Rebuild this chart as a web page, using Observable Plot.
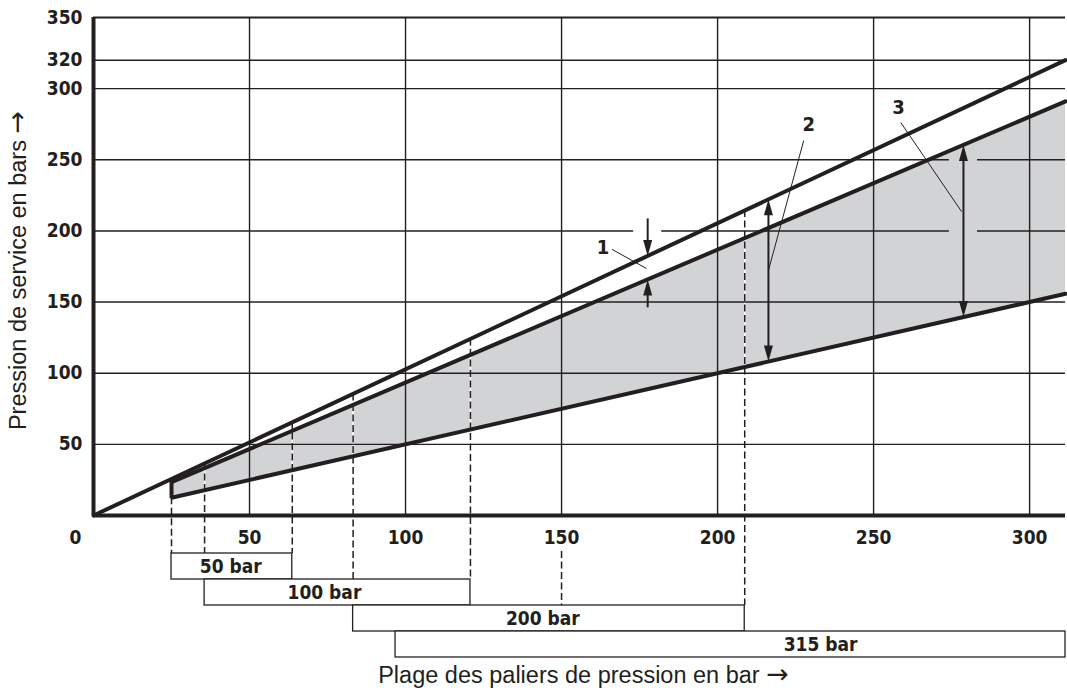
<!DOCTYPE html>
<html>
<head>
<meta charset="utf-8">
<script src="https://cdn.jsdelivr.net/npm/d3@7"></script>
<script src="https://cdn.jsdelivr.net/npm/@observablehq/plot@0.6"></script>
<style>
  html, body { margin: 0; padding: 0; background: #fff; }
  #chart svg { display: block; }
</style>
</head>
<body>
<div id="chart"></div>
<script>
// ---------- data ----------
const xTicks = [50, 100, 150, 200, 250, 300];
const yTicks = [50, 100, 150, 200, 250, 300, 320, 350];
const xMax = 311.5;

// characteristic lines [x, pressure]
const topLine    = [[0, 0], [311.5, 320]];
const upperLimit = [[25, 23.4], [311.5, 291]];
const lowerLimit = [[25, 12.5], [311.5, 155.8]];

// pressure-stage ranges (boxes under the axis)
const stageNames  = ["50 bar", "100 bar", "200 bar", "315 bar"];
const stageFrom   = [25, 35.6, 83.2, 96.8];
const stageTo     = [63.7, 120.8, 208.7, 311.5];
const stageLabelX = [44, 74, 144, 233];

// dashed guides: x, where they start, which box row they reach
const guideX     = [25, 35.6, 63.7, 83.2, 120.8, 208.7, 150];
const guideFrom  = ["lower", "top", "top", "top", "top", "top", "row0"];
const guideToRow = [0, 0, 0, 1, 1, 2, 2];

// numbered dimension arrows
const arrowIds     = ["1", "2", "3"];
const arrowX       = [177.6, 216.3, 278.8];
const labelX       = [163.3, 229.2, 258.0];
const labelY       = [188.5, 274.5, 286.5];
const leaderFrom   = [[166.2, 187.0], [227.6, 263.5], [258.7, 276.2]];
const leaderTo     = [[177.2, 173.6], [216.3, 172.2], [278.2, 213.6]];

const yTitle = "Pression de service en bars →";
const xTitle = "Plage des paliers de pression en bar →";

// ---------- helpers ----------
const ink = "#231f20";
const grey = "#d1d3d4";
const tickFont = "'DejaVu Sans Condensed', 'DejaVu Sans', sans-serif";
const titleFont = "'Liberation Sans', Arial, Helvetica, sans-serif";
const W = 1067, H = 700, mL = 93, mT = 17, mR = 2, mB = 185;
const unitsPerPx = 350 / (H - mB - mT);
const rowTop = r => -(38 + 26 * r) * unitsPerPx;
const at = (line, x) => {
  const [[x0, y0], [x1, y1]] = line;
  return y0 + (x - x0) * (y1 - y0) / (x1 - x0);
};
const curves = {top: topLine, upper: upperLimit, lower: lowerLimit};

// gridline gaps around arrows
const gridGaps = [
  {y: 200, x: arrowX[0]},
  {y: 250, x: arrowX[2]},
  {y: 200, x: arrowX[2]}
];
const gapHalf = 4.5;
const gridSegs = [];
for (const y of yTicks) {
  const cuts = gridGaps.filter(g => g.y === y).map(g => [g.x - gapHalf, g.x + gapHalf]).sort((a, b) => a[0] - b[0]);
  let s = 0;
  for (const c of cuts) { gridSegs.push({y, x1: s, x2: c[0]}); s = c[1]; }
  gridSegs.push({y, x1: s, x2: xMax});
}

// guides
const guides = guideX.map((x, i) => ({
  x,
  y1: guideFrom[i] === "row0" ? rowTop(0) + 2 * unitsPerPx : at(curves[guideFrom[i]], x),
  y2: rowTop(guideToRow[i])
}));

// arrows
const shafts = [], heads = [];
const shorten = 6;
{
  const x = arrowX[0], t = at(topLine, x), m = at(upperLimit, x);
  shafts.push({x, y1: t + 26, y2: t + shorten}, {x, y1: m - 20, y2: m - shorten});
  heads.push({x, y: t, dir: "down"}, {x, y: m, dir: "up"});
}
{
  const x = arrowX[1], t = at(topLine, x), l = at(lowerLimit, x);
  shafts.push({x, y1: l + shorten, y2: t - shorten});
  heads.push({x, y: t, dir: "up"}, {x, y: l, dir: "down"});
}
{
  const x = arrowX[2], m = at(upperLimit, x), l = at(lowerLimit, x);
  shafts.push({x, y1: l + shorten, y2: m - shorten});
  heads.push({x, y: m, dir: "up"}, {x, y: l, dir: "down"});
}
const headUp = {draw(ctx) { ctx.moveTo(0, 0); ctx.lineTo(-4.5, 16); ctx.lineTo(4.5, 16); ctx.closePath(); }};
const headDown = {draw(ctx) { ctx.moveTo(0, 0); ctx.lineTo(-4.5, -16); ctx.lineTo(4.5, -16); ctx.closePath(); }};

const stageIdx = stageNames.map((_, i) => i);
const arrowIdx = arrowIds.map((_, i) => i);

const chart = Plot.plot({
  width: W, height: H,
  marginLeft: mL, marginTop: mT, marginRight: mR, marginBottom: mB,
  style: {fontFamily: tickFont, fontSize: "19px", fontWeight: "bold", color: ink, background: "#fff"},
  x: {domain: [0, xMax]},
  y: {domain: [0, 350]},
  marks: [
    // grey band between upper and lower limit
    Plot.areaY([upperLimit[0][0], upperLimit[1][0]], {x: d => d, y1: d => at(lowerLimit, d), y2: d => at(upperLimit, d), fill: grey}),
    // white underlay for dashed guides
    Plot.ruleX(guides, {x: "x", y1: "y1", y2: "y2", stroke: "#fff", strokeWidth: 1.6}),
    // grid
    Plot.ruleX(xTicks, {y1: 0, y2: 350, stroke: ink, strokeWidth: 1.4}),
    Plot.ruleY(gridSegs, {y: "y", x1: "x1", x2: "x2", stroke: ink, strokeWidth: d => d.y === 350 ? 2 : 1.4}),
    // dashed guides
    Plot.ruleX(guides, {x: "x", y1: "y1", y2: "y2", stroke: ink, strokeWidth: 1.5, strokeDasharray: "7,3.5"}),
    // stage boxes
    Plot.rect(stageIdx, {x1: i => stageFrom[i], x2: i => stageTo[i], y1: i => rowTop(i), y2: i => rowTop(i + 1), fill: "#fff", stroke: ink, strokeWidth: 1.3}),
    Plot.text(stageIdx, {x: i => stageLabelX[i], y: i => (rowTop(i) + rowTop(i + 1)) / 2, text: i => stageNames[i], fontSize: 19, fontWeight: "bold", fill: ink}),
    // frame axes
    Plot.ruleX([0], {y1: 0, y2: 350, stroke: ink, strokeWidth: 4}),
    Plot.ruleY([0], {x1: 0, x2: xMax, stroke: ink, strokeWidth: 4}),
    // characteristic lines
    Plot.line(topLine, {x: d => d[0], y: d => d[1], stroke: ink, strokeWidth: 4}),
    Plot.line([upperLimit[1], upperLimit[0], lowerLimit[0], lowerLimit[1]], {x: d => d[0], y: d => d[1], stroke: ink, strokeWidth: 4, strokeLinejoin: "miter"}),
    // arrows
    Plot.ruleX(shafts, {x: "x", y1: "y1", y2: "y2", stroke: ink, strokeWidth: 2}),
    Plot.dot(heads.filter(h => h.dir === "up"), {x: "x", y: "y", symbol: headUp, r: 4, fill: ink, stroke: null}),
    Plot.dot(heads.filter(h => h.dir === "down"), {x: "x", y: "y", symbol: headDown, r: 4, fill: ink, stroke: null}),
    Plot.link(arrowIdx, {x1: i => leaderFrom[i][0], y1: i => leaderFrom[i][1], x2: i => leaderTo[i][0], y2: i => leaderTo[i][1], stroke: ink, strokeWidth: 1}),
    Plot.text(arrowIdx, {x: i => labelX[i], y: i => labelY[i], text: i => arrowIds[i], fontSize: 20, fontWeight: "bold", fill: ink}),
    // axes
    Plot.axisX(xTicks, {tickSize: 0, tickPadding: 15, label: null, fontSize: 19, fontWeight: "bold"}),
    Plot.axisY(yTicks, {tickSize: 0, tickPadding: 11, label: null, fontSize: 19, fontWeight: "bold"}),
    Plot.text(["0"], {x: 0, y: 0, dx: -18, dy: 22, fontSize: 19, fontWeight: "bold", fill: ink}),
    // axis titles
    Plot.text([yTitle], {frameAnchor: "left", textAnchor: "middle", rotate: -90, dx: -75, dy: 4, fontFamily: titleFont, fontSize: 23.5, fontWeight: "normal", fill: ink}),
    Plot.text([xTitle], {frameAnchor: "bottom", dy: 167, dx: 4, fontFamily: titleFont, fontSize: 23.5, fontWeight: "normal", fill: ink})
  ]
});
// render the arrow glyph of the titles larger, as in the reference
d3.select(chart).selectAll("text").filter(function() { return this.textContent.endsWith("→"); }).each(function() {
  const t = d3.select(this);
  const s = this.textContent.slice(0, -1);
  t.text(null);
  t.append("tspan").text(s);
  t.append("tspan").style("font-family", "'DejaVu Sans', sans-serif").style("font-size", "27px").text("→");
});
document.getElementById("chart").appendChild(chart);
</script>
</body>
</html>
